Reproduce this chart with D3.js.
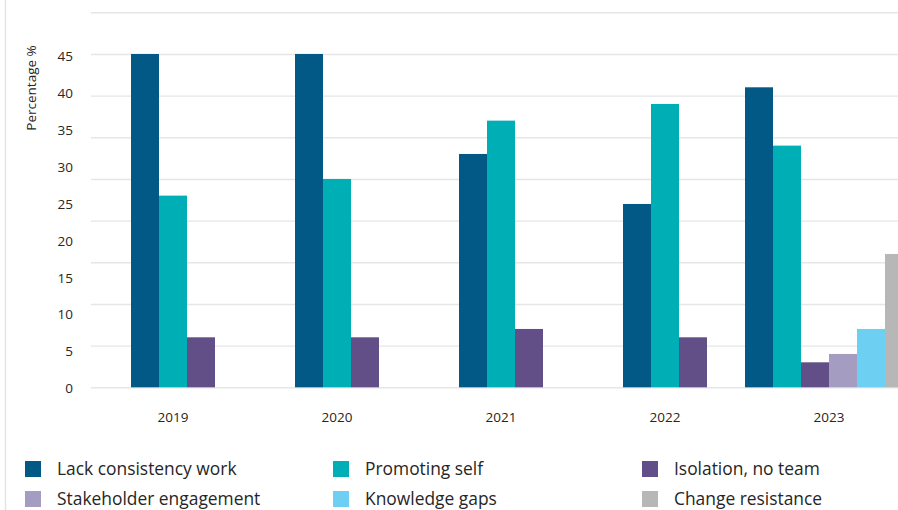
<!DOCTYPE html>
<meta charset="utf-8">
<style>
    body { margin: 0; background: #fff; }
    text { font-family: "Open Sans", sans-serif; fill: #262626; }
    .grid line { stroke: #e6e6e6; stroke-width: 1.4; }
    .grid path { display: none; }
    .lab path, .lab line { display: none; }
</style>

<svg width="898" height="510"></svg>

<script src="https://cdn.jsdelivr.net/npm/d3@7/dist/d3.min.js"></script>
<script>

    // DATA

    var years = ["2019", "2020", "2021", "2022", "2023"];
    var seriesNames = ["Lack consistency work", "Promoting self", "Isolation, no team",
        "Stakeholder engagement", "Knowledge gaps", "Change resistance"];
    var colors = ["#025985", "#00aeb5", "#624f87", "#a59cc1", "#6dcff2", "#b7b7b7"];

    var lackConsistency = [40, 40, 28, 22, 36];
    var promotingSelf = [23, 25, 32, 34, 29];
    var isolation = [6, 6, 7, 6, 3];
    var stakeholder = [null, null, null, null, 4];
    var knowledgeGaps = [null, null, null, null, 7];
    var changeResistance = [null, null, null, null, 16];

    var tickLabels = ["0", "5", "10", "15", "20", "25", "30", "35", "40", "45"];

    var allSeries = [lackConsistency, promotingSelf, isolation, stakeholder, knowledgeGaps, changeResistance];

    // SETUP

    var svg = d3.select("svg"),
        barW = 28;

    var x = d3.scaleBand().domain(years).range([91, 911]);
    var y = d3.scaleLinear().domain([0, 45]).range([387.3, 12.3]);
    // the printed labels sit on their own spacing in the original
    var yLab = d3.scalePoint().domain(tickLabels).range([388, 56]);

    // left border
    svg.append("line")
        .attr("x1", 5.5).attr("x2", 5.5)
        .attr("y1", 0).attr("y2", 510)
        .attr("stroke", "#e3e3e3").attr("stroke-width", 1.4);

    svg.append("g")
        .attr("class", "grid")
        .attr("transform", "translate(91,0)")
        .call(d3.axisLeft(y).tickValues(d3.range(0, 46, 5)).tickSize(-820).tickFormat(""));

    svg.append("g")
        .attr("class", "lab")
        .attr("transform", "translate(73,0)")
        .call(d3.axisLeft(yLab).tickSize(0).tickPadding(0))
        .selectAll("text")
        .attr("font-size", 13.5)
        .attr("dy", "0.35em")
        .style("font-family", "'Open Sans', sans-serif");

    svg.append("text")
        .attr("transform", "translate(36,88) rotate(-90)")
        .attr("text-anchor", "middle")
        .attr("font-size", 13.5)
        .text("Percentage %");

    // BARS

    var bars = [];
    years.forEach(function (yr, i) {
        var present = allSeries.map(function (s, k) { return { k: k, v: s[i] }; })
            .filter(function (d) { return d.v != null; });
        var start = x(yr) + x.bandwidth() / 2 - present.length * barW / 2;
        present.forEach(function (d, j) {
            bars.push({ year: yr, k: d.k, v: d.v, x0: start + j * barW });
        });
    });

    svg.selectAll(".bar")
        .data(bars)
        .enter().append("rect")
        .attr("class", "bar")
        .attr("x", function (d) { return d.x0; })
        .attr("y", function (d) { return y(d.v); })
        .attr("width", barW)
        .attr("height", function (d) { return y(0) - y(d.v); })
        .attr("fill", function (d) { return colors[d.k]; });

    svg.selectAll(".year")
        .data(years)
        .enter().append("text")
        .attr("class", "year")
        .attr("x", function (d) { return x(d) + x.bandwidth() / 2; })
        .attr("y", 417)
        .attr("dy", "0.35em")
        .attr("text-anchor", "middle")
        .attr("font-size", 13.5)
        .text(function (d) { return d; });

    // LEGEND

    var legCols = [25, 333, 642],
        legRows = [469, 499];

    var leg = svg.selectAll(".leg")
        .data(seriesNames)
        .enter().append("g")
        .attr("class", "leg")
        .attr("transform", function (d, i) {
            return "translate(" + legCols[i % 3] + "," + legRows[Math.floor(i / 3)] + ")";
        });

    leg.append("rect")
        .attr("x", 0).attr("y", -8)
        .attr("width", 16).attr("height", 16)
        .attr("fill", function (d, i) { return colors[i]; });

    leg.append("text")
        .attr("x", 32)
        .attr("dy", "0.35em")
        .attr("font-size", 17.4)
        .text(function (d) { return d; });

</script>
